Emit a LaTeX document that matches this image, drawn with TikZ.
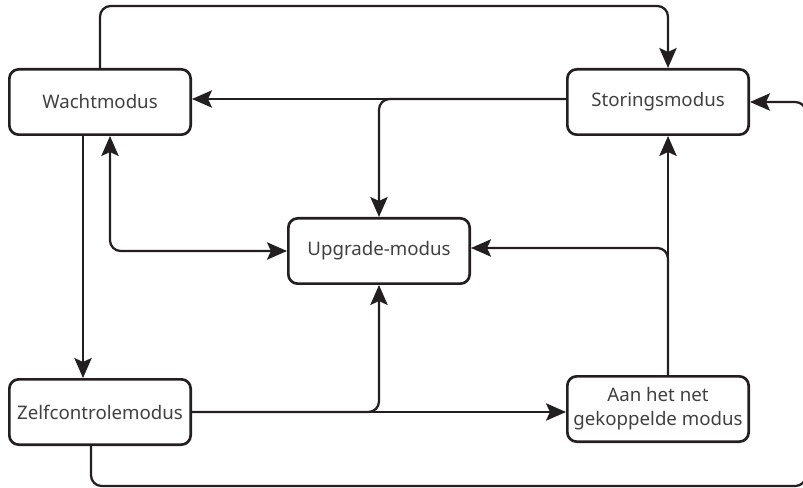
\documentclass[tikz,border=0pt]{standalone}
\usepackage{fontspec}
\setmainfont{Noto Sans}
\usetikzlibrary{arrows.meta,calc}
\definecolor{linecol}{HTML}{231F20}
\definecolor{textcol}{HTML}{404040}

\begin{document}
\begin{tikzpicture}[x=0.75pt,y=-0.75pt,>={Stealth[length=15pt,width=13pt,inset=3pt]},
    mode/.style={draw=linecol,line width=2pt,rounded corners=7pt,minimum width=136pt,minimum height=49pt,
        inner sep=0pt,align=center,text=textcol,font=\fontsize{14}{18}\selectfont},
    link/.style={draw=linecol,line width=1.7pt,rounded corners=8pt}]

        \useasboundingbox (0,0) rectangle (803,488);

        \node [mode] at (100,102) (wacht) {Wachtmodus};
        \node [mode] at (658,102) (stor) {Storingsmodus};
        \node [mode] at (379,251) (upg) {Upgrade-modus};
        \node [mode] at (100,412) (zelf) {Zelfcontrolemodus};
        \node [mode] at (658,409) (aan) {Aan het net\\gekoppelde modus};

        \coordinate (sw) at ($(stor.west)+(0,-3)$);
        \coordinate (an) at ($(aan.north)+(10,0)$);

        % over the top to the fault mode
        \draw [link,->] (wacht.north) |- ($(stor.north)+(10,-62)$) -- ($(stor.north)+(10,0)$);
        % fault mode back to watch mode, branch down to upgrade
        \draw [link,->] (sw) -- (sw -| wacht.east);
        \draw [link,->] (sw) -| (upg.north);
        % watch mode
        \draw [link,->] ($(wacht.south)+(-17,0)$) -- ($(zelf.north)+(-17,0)$);
        \draw [link,<->] ($(wacht.south)+(10,0)$) |- (upg.west);
        % self check
        \draw [link,->] (zelf.east) -- (zelf.east -| aan.west);
        \draw [link,->] (zelf.east) -| (upg.south);
        \draw [link,->] ($(zelf.south)+(-9,0)$) -- ++(0,40) -| ($(stor.east)+(56,0)$) -- (stor.east);
        % grid connected
        \draw [link,->] (an) -- ($(stor.south)+(10,0)$);
        \draw [link,->] (an) |- ($(upg.east)+(0,-3)$);

\end{tikzpicture}
\end{document}
